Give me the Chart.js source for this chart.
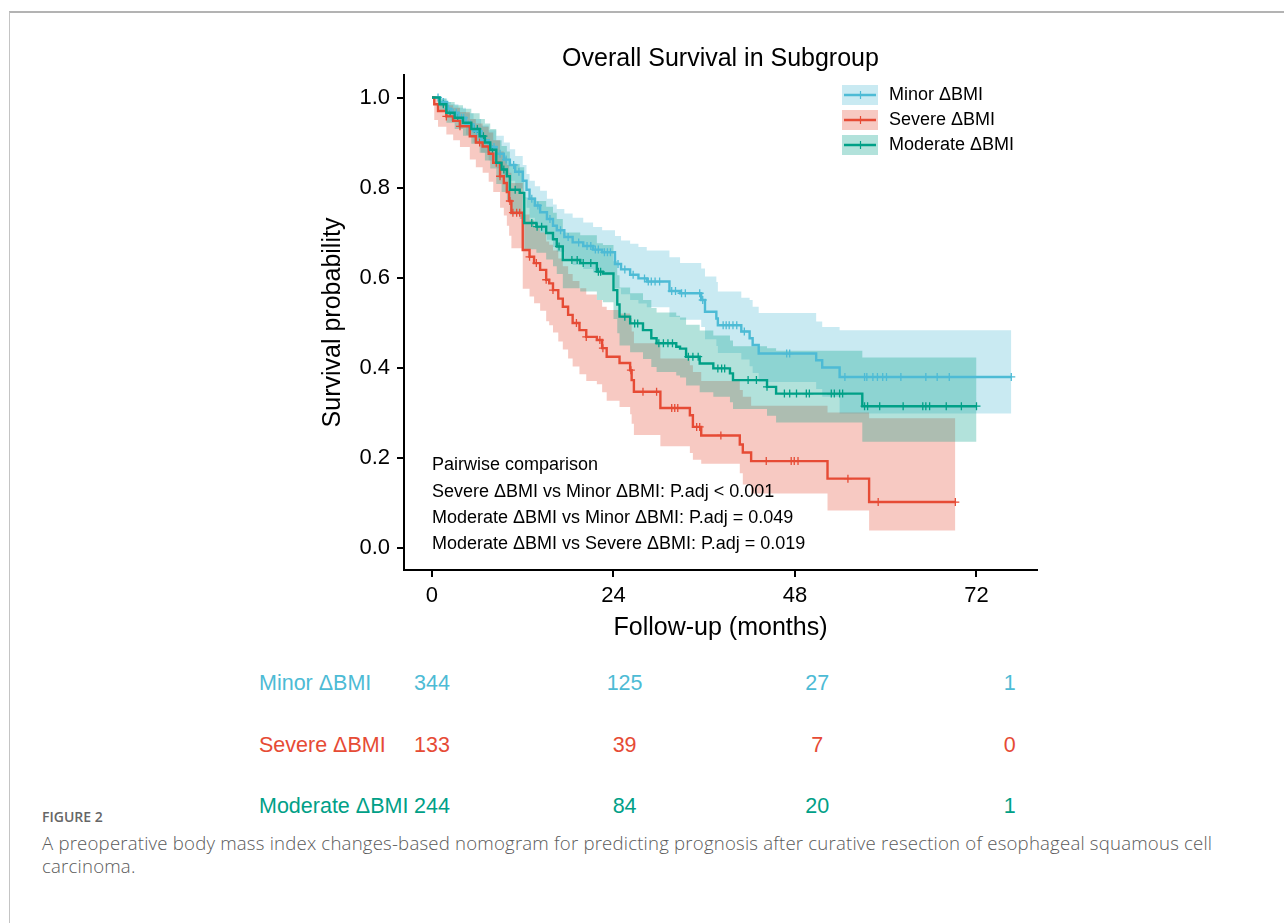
<!DOCTYPE html>
<html>
<head>
<meta charset="utf-8">
<script src="https://cdn.jsdelivr.net/npm/chart.js@4.4.0/dist/chart.umd.min.js"></script>
<style>
  body { margin:0; background:#fff; width:1284px; height:923px; position:relative; overflow:hidden;
         font-family:'Liberation Sans', Arial, sans-serif; }
  #frame { position:absolute; left:9px; top:11px; right:-5px; bottom:-5px;
           border-top:2px solid #b3b3b3; border-left:1px solid #c4c4c4; }
  #km { position:absolute; left:0; top:0; }
  .risk { position:absolute; font-size:21.5px; line-height:22px; white-space:nowrap; }
  #figlabel { position:absolute; left:42px; top:807px; font-family:'Open Sans', sans-serif;
              font-size:14px; font-weight:600; color:#666; }
  #caption { position:absolute; left:42px; top:831px; font-family:'Open Sans', sans-serif;
             font-size:18.6px; font-weight:300; letter-spacing:0.2px; line-height:23px; color:#5a5a5a; white-space:nowrap; }
</style>
</head>
<body>
<div id="frame"></div>
<canvas id="km" width="1284" height="660"></canvas>
<div id="risk"></div>
<div id="figlabel">FIGURE 2</div>
<div id="caption">A preoperative body mass index changes-based nomogram for predicting prognosis after curative resection of esophageal squamous cell<br>carcinoma.</div>
<script>
// groups
const groups = ['Minor ΔBMI', 'Severe ΔBMI', 'Moderate ΔBMI'];
const colors = ['#4DBBD5', '#E64B35', '#00A087'];
const bandColors = ['rgba(77,187,213,0.3)', 'rgba(230,75,53,0.3)', 'rgba(0,160,135,0.3)'];

// Minor ΔBMI
const minorTime  = [0, 1, 2, 2.5, 3.5, 4.5, 5.5, 6.5, 7.5, 8.5, 9.5, 10.3, 11, 12, 12.5, 12.9, 13.6, 14.3, 15.2, 16, 16.5, 17.5, 18.6, 20, 21.3, 22.5, 24.2, 25, 26.2, 27.3, 28.4, 31.4, 32.8, 35.6, 36.1, 37.6, 37.8, 40.9, 42, 42.4, 43.2, 50.8, 51.6, 53.9, 76.6];
const minorSurv  = [1, .99, .975, .966, .955, .94, .925, .905, .89, .875, .862, .85, .835, .815, .795, .775, .76, .745, .73, .715, .705, .69, .678, .67, .662, .656, .63, .618, .606, .598, .591, .57, .565, .55, .524, .509, .494, .48, .465, .45, .431, .416, .40, .379, .379];
const minorUpper = [1, .998, .99, .985, .977, .965, .952, .938, .927, .915, .9, .885, .87, .85, .83, .815, .803, .793, .775, .762, .752, .742, .733, .722, .712, .705, .692, .682, .675, .668, .66, .645, .632, .62, .602, .59, .569, .555, .55, .535, .521, .502, .49, .483, .483];
const minorLower = [1, .98, .96, .948, .935, .917, .9, .877, .86, .843, .828, .815, .798, .776, .755, .733, .717, .7, .684, .668, .657, .642, .628, .619, .611, .605, .576, .563, .55, .542, .534, .512, .506, .49, .463, .448, .432, .418, .403, .388, .368, .352, .335, .298, .298];
const minorCens  = [0.8, 1.5, 2.2, 2.8, 3.2, 3.9, 4.2, 4.8, 5.1, 5.9, 6.2, 7.0, 7.8, 8.2, 9.0, 9.8, 10.8, 11.5, 13.2, 14.0, 15.6, 17.0, 18.0, 19.4, 20.5, 21.0, 21.6, 22.0, 22.8, 23.2, 23.6, 24.6, 25.5, 26.6, 28.1, 28.6, 29.0, 29.5, 30.1, 31.7, 32.2, 33.0, 33.5, 35.4, 35.8, 38.5, 38.9, 39.3, 39.8, 40.3, 41.3, 46.9, 47.3, 54.6, 57.2, 57.5, 58.3, 58.9, 59.6, 60.1, 62.0, 65.3, 66.8, 68.4, 76.6];

// Severe ΔBMI
const severeTime  = [0, 0.3, 0.8, 1.9, 2.8, 3.7, 5, 5.8, 6.7, 7.5, 8.1, 9, 9.5, 9.9, 10.2, 10.5, 12, 12.9, 13.5, 14.3, 15.1, 15.5, 16, 16.7, 17.3, 18, 18.6, 19.5, 20.4, 21.8, 22.5, 23.1, 24.8, 26.2, 26.4, 26.7, 30.2, 34.1, 34.5, 35.6, 40.7, 41.1, 42.2, 52.3, 57.8, 69.2];
const severeSurv  = [1, .985, .97, .958, .948, .936, .914, .9, .891, .875, .855, .825, .81, .79, .77, .744, .661, .646, .632, .617, .595, .587, .572, .553, .535, .517, .499, .483, .468, .461, .443, .424, .41, .394, .372, .346, .31, .294, .268, .249, .229, .211, .192, .153, .101, .101];
const severeUpper = [1, .997, .99, .983, .977, .968, .952, .942, .935, .922, .905, .88, .867, .85, .833, .81, .74, .727, .714, .7, .68, .673, .66, .642, .625, .608, .592, .576, .562, .55, .535, .528, .52, .51, .48, .454, .42, .405, .39, .37, .35, .335, .315, .30, .287, .287];
const severeLower = [1, .95, .935, .918, .905, .89, .862, .845, .833, .813, .79, .755, .738, .715, .693, .665, .575, .558, .543, .526, .503, .494, .478, .458, .44, .42, .402, .385, .37, .363, .345, .326, .312, .296, .275, .25, .225, .21, .195, .186, .165, .14, .12, .082, .038, .038];
const severeCens  = [1.9, 3.7, 6.3, 8.5, 9.0, 10.3, 10.7, 11.2, 11.6, 12.9, 13.8, 15.1, 16.0, 19.1, 20.4, 22.2, 22.6, 26.3, 27.9, 29.7, 31.7, 32.1, 32.5, 35.0, 35.4, 38.2, 44.2, 47.5, 47.9, 48.4, 55, 59, 69.2];

// Moderate ΔBMI
const modTime  = [0, 1, 1.9, 3, 4.1, 5.2, 6.3, 7, 7.7, 8.5, 9.2, 9.9, 10.3, 11.6, 12.2, 13.8, 15.1, 16, 16.5, 17.3, 19.6, 21.8, 22.6, 24, 24.5, 24.8, 26.2, 27.9, 29, 29.7, 32.3, 32.8, 33.6, 35.4, 37.2, 39.4, 39.8, 44.3, 45.5, 56.9, 72];
const modSurv  = [1, .985, .966, .955, .944, .93, .914, .9, .884, .855, .84, .825, .795, .788, .721, .713, .699, .685, .669, .639, .632, .613, .609, .572, .54, .513, .498, .483, .465, .454, .446, .442, .424, .409, .398, .387, .372, .357, .342, .314, .314];
const modUpper = [1, .998, .99, .983, .975, .965, .952, .942, .93, .905, .892, .88, .852, .845, .778, .77, .757, .744, .73, .7, .694, .676, .672, .636, .605, .578, .565, .55, .532, .522, .515, .511, .495, .482, .471, .46, .447, .443, .437, .422, .422];
const modLower = [1, .97, .944, .93, .915, .897, .877, .86, .842, .808, .79, .772, .74, .73, .663, .655, .64, .625, .608, .576, .569, .55, .545, .508, .476, .449, .434, .419, .401, .39, .382, .378, .36, .345, .335, .323, .308, .293, .278, .235, .235];
const modCens  = [1.5, 2.4, 3.4, 4.5, 5.6, 6.0, 6.8, 8.0, 9.5, 11.0, 13.2, 13.9, 14.5, 16.8, 18.5, 19.2, 20.0, 21.0, 22.0, 22.3, 25.5, 26.8, 27.2, 30.0, 30.6, 31.2, 31.8, 33.9, 34.5, 35.2, 37.8, 38.3, 38.7, 41.8, 42.9, 44.3, 46.6, 47.3, 48.2, 49.5, 49.9, 52.8, 53.2, 53.9, 54.3, 57.2, 57.6, 59.2, 62.3, 64.9, 65.3, 65.8, 68, 70, 72];

// numbers at risk
const riskTimes = [0, 24, 48, 72];
const riskMinor = [344, 125, 27, 1];
const riskSevere = [133, 39, 7, 0];
const riskModerate = [244, 84, 20, 1];

const xTicks = [0, 24, 48, 72];
const yTicks = [0, 0.2, 0.4, 0.6, 0.8, 1.0];

const pairText = [
  'Pairwise comparison',
  'Severe ΔBMI vs Minor ΔBMI: P.adj < 0.001',
  'Moderate ΔBMI vs Minor ΔBMI: P.adj = 0.049',
  'Moderate ΔBMI vs Severe ΔBMI: P.adj = 0.019'
];

const FONT = "'Liberation Sans', Arial, sans-serif";
Chart.defaults.font.family = FONT;
Chart.defaults.color = '#000';

function pts(t, v) { return t.map((x, i) => ({x: x, y: v[i]})); }
function survAt(t, v, x) {
  let s = v[0];
  for (let i = 0; i < t.length; i++) { if (t[i] <= x) s = v[i]; }
  return s;
}
function censPts(t, v, c) { return c.map(x => ({x: x, y: survAt(t, v, x)})); }

const series = [
  {t: minorTime, s: minorSurv, u: minorUpper, l: minorLower, c: minorCens},
  {t: severeTime, s: severeSurv, u: severeUpper, l: severeLower, c: severeCens},
  {t: modTime, s: modSurv, u: modUpper, l: modLower, c: modCens}
];

const datasets = [];
// lines (green on top)
[2, 1, 0].forEach(g => {
  const d = series[g];
  datasets.push({ data: pts(d.t, d.s), borderColor: colors[g], borderWidth: 2.4, stepped: true,
                  pointRadius: 0, fill: false });
});
[2, 1, 0].forEach(g => {
  const d = series[g];
  datasets.push({ data: censPts(d.t, d.s, d.c), showLine: false, pointStyle: 'cross',
                  pointRadius: 4, pointBorderWidth: 1.3, borderColor: colors[g], pointBorderColor: colors[g] });
});
// bands: green fill listed first so it is painted last
[2, 1, 0].forEach(g => {
  const d = series[g];
  datasets.push({ data: pts(d.t, d.u), borderWidth: 0, pointRadius: 0, stepped: true,
                  fill: '+1', backgroundColor: bandColors[g] });
  datasets.push({ data: pts(d.t, d.l), borderWidth: 0, pointRadius: 0, stepped: true, fill: false });
});

const extras = {
  id: 'extras',
  afterDraw(chart) {
    const ctx = chart.ctx;
    const area = chart.chartArea;
    ctx.save();
    ctx.textBaseline = 'middle';
    // legend
    groups.forEach((name, i) => {
      const cy = 95 + i * 25;
      ctx.fillStyle = bandColors[i];
      ctx.fillRect(842, cy - 10, 36, 20);
      ctx.strokeStyle = colors[i];
      ctx.lineWidth = 2.5;
      ctx.beginPath(); ctx.moveTo(844, cy); ctx.lineTo(876, cy); ctx.stroke();
      ctx.lineWidth = 1.2;
      ctx.beginPath(); ctx.moveTo(860.5, cy - 4); ctx.lineTo(860.5, cy + 4); ctx.stroke();
      ctx.fillStyle = '#000';
      ctx.font = '18px ' + FONT;
      ctx.fillText(name, 889, cy);
    });
    // pairwise comparison text
    const x0 = chart.scales.x.getPixelForValue(0);
    const offs = [105, 78, 52, 26];
    ctx.font = '18px ' + FONT;
    ctx.fillStyle = '#000';
    pairText.forEach((s, i) => ctx.fillText(s, x0, area.bottom - offs[i]));
    ctx.restore();
  }
};

new Chart(document.getElementById('km'), {
  type: 'line',
  data: { datasets: datasets },
  options: {
    responsive: false,
    animation: false,
    events: [],
    layout: { padding: { left: 316, right: 247, top: 0, bottom: 15 } },
    plugins: {
      legend: { display: false },
      tooltip: { enabled: false },
      filler: { drawTime: 'beforeDatasetsDraw' },
      title: { display: true, text: 'Overall Survival in Subgroup', fullSize: false,
               font: { size: 25, weight: 'normal' }, color: '#000', padding: { top: 44, bottom: 1 } }
    },
    scales: {
      x: {
        type: 'linear', min: -3.7, max: 80,
        afterBuildTicks: s => { s.ticks = xTicks.map(v => ({value: v})); },
        afterFit: s => { s.height = 75; },
        grid: { drawOnChartArea: false, drawTicks: true, tickLength: 7, color: '#000', lineWidth: 2 },
        border: { display: true, color: '#000', width: 2 },
        ticks: { font: { size: 22 }, color: '#000', padding: 6, maxRotation: 0 },
        title: { display: true, text: 'Follow-up (months)', font: { size: 25 }, color: '#000',
                 padding: { top: 2, bottom: 2 } }
      },
      y: {
        type: 'linear', min: -0.05, max: 1.05,
        afterBuildTicks: s => { s.ticks = yTicks.map(v => ({value: v})); },
        afterFit: s => { s.width = 88; },
        grid: { drawOnChartArea: false, drawTicks: true, tickLength: 7, color: '#000', lineWidth: 2 },
        border: { display: true, color: '#000', width: 2 },
        ticks: { font: { size: 22 }, color: '#000', padding: 7, callback: v => v.toFixed(1) },
        title: { display: true, text: 'Survival probability', font: { size: 25 }, color: '#000',
                 padding: { top: 2, bottom: 2 } }
      }
    }
  },
  plugins: [extras]
});

// risk table
const riskRows = [riskMinor, riskSevere, riskModerate];
const rowY = [683, 745, 806];
const colX = riskTimes.map((t, i) => 432 + i * 192.6);
const risk = document.getElementById('risk');
riskRows.forEach((row, r) => {
  const lab = document.createElement('div');
  lab.className = 'risk';
  lab.style.color = colors[r];
  lab.style.left = '259px';
  lab.style.top = (rowY[r] - 11) + 'px';
  lab.textContent = groups[r];
  risk.appendChild(lab);
  row.forEach((n, i) => {
    const d = document.createElement('div');
    d.className = 'risk';
    d.style.color = colors[r];
    d.style.left = colX[i] + 'px';
    d.style.top = (rowY[r] - 11) + 'px';
    d.style.transform = 'translateX(-50%)';
    d.textContent = n;
    risk.appendChild(d);
  });
});
</script>
</body>
</html>
